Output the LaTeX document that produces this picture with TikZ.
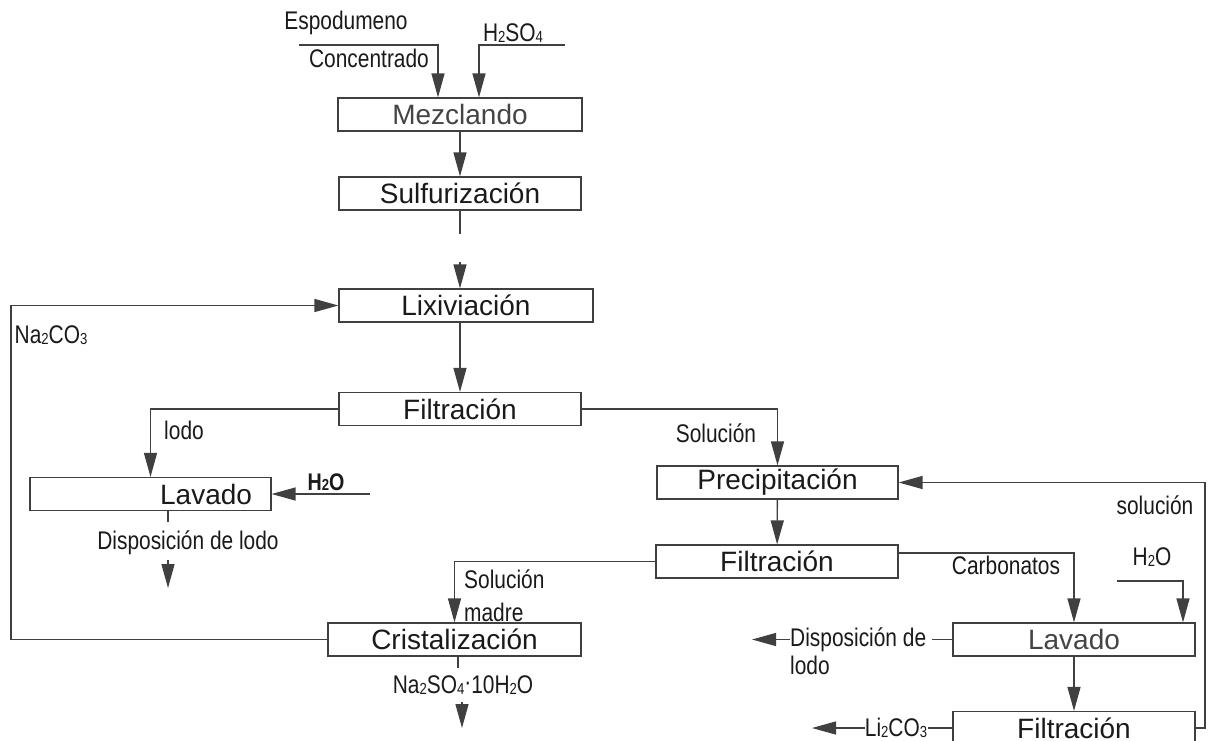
\documentclass[tikz,border=0pt]{standalone}
\usepackage{fontspec}
\setmainfont{Liberation Sans}
\newfontfamily\narrowfont[FakeStretch=0.82]{Liberation Sans}
\usetikzlibrary{arrows.meta}
\definecolor{ln}{HTML}{404040}
\definecolor{tx}{HTML}{1A1A1A}
\definecolor{tg}{HTML}{444444}
\newcommand\dsub[1]{\raisebox{-0.05ex}{\fontsize{16}{16}\selectfont #1}}
\begin{document}
\begin{tikzpicture}[x=1pt,y=-1pt,
  box/.style={draw=ln, line width=1.2pt, minimum height=33pt, inner sep=0pt,
              font=\fontsize{28}{30}\selectfont, text=tx},
  lbl/.style={font=\narrowfont\fontsize{25.5}{28}\selectfont, text=tx, inner sep=1pt},
  cn/.style={draw=ln, line width=1.3pt},
  arr/.style={cn, -{Triangle[length=24pt,width=13pt]}, color=ln}]
\useasboundingbox (0,0) rectangle (1208,740);
\fill[white] (0,0) rectangle (1208,740);

% boxes
\node[box, minimum width=244pt, text=tg] (mez) at (460,114.5) {Mezclando};
\node[box, minimum width=242pt] (sul) at (460,193.5) {Sulfurización};
\node[box, minimum width=254pt] (lix) at (466,305.5) {Lixiviación};
\node[box, minimum width=242pt] (fil1) at (460,409) {Filtración};
\node[box, minimum width=241pt, text width=203pt, align=right, inner xsep=19pt] (lav1) at (150.5,494) {Lavado};
\node[box, minimum width=241pt] (pre) at (777.5,482.5) {Precipitación};
\node[box, minimum width=242pt] (fil2) at (777,561.5) {Filtración};
\node[box, minimum width=253pt] (cri) at (454.5,639.5) {Cristalización};
\node[box, minimum width=242pt, text=tg] (lav2) at (1074,639.5) {Lavado};
\node[box, minimum width=242pt] (fil3) at (1074,728) {Filtración};

% labels
\node[lbl] (tEsp) at (346,23) {Espodumeno};
\node[lbl] (tCon) at (369,58) {Concentrado};
\node[lbl] (tH2SO4) at (513,33) {H\dsub{2}SO\dsub{4}};
\node[lbl] (tNa) at (51,335) {Na\dsub{2}CO\dsub{3}};
\node[lbl] (tLodo) at (184,430) {lodo};
\node[lbl, font=\narrowfont\bfseries\fontsize{24}{28}\selectfont] (tH2Oa) at (326,482) {H\dsub{2}O};
\node[lbl] (tDisp1) at (188,543) {Disposición de lodo};
\node[lbl] (tSol1) at (716,433) {Solución};
\node[lbl, align=left, anchor=west, font=\narrowfont\fontsize{25.5}{33}\selectfont] (tSolM) at (463,596) {Solución\\madre};
\node[lbl] (tNaS) at (463,685) {Na\dsub{2}SO\dsub{4}\raisebox{0.2ex}{·}10H\dsub{2}O};
\node[lbl] (tCarb) at (1006,565) {Carbonatos};
\node[lbl] (tH2Ob) at (1152,557) {H\dsub{2}O};
\node[lbl] (tSol2) at (1155,505) {solución};
\node[lbl, align=left, anchor=west, font=\narrowfont\fontsize{25.5}{28}\selectfont] (tDisp2) at (789,651) {Disposición de\\lodo};
\node[lbl] (tLi) at (896,728) {Li\dsub{2}CO\dsub{3}};

% free ends
\coordinate (inEsp) at (299,45);
\coordinate (inH2SO4) at (565,45);
\coordinate (gapA) at (460,234);
\coordinate (gapB) at (460,262);
\coordinate (loopL) at (11,639.5);
\coordinate (inH2Oa) at (370,494);
\coordinate (d1a) at (168,522);
\coordinate (d1b) at (168,560);
\coordinate (d1c) at (168,588);
\coordinate (inH2Ob) at (1117,581);
\coordinate (d2a) at (932,639.5);
\coordinate (d2b) at (790,639.5);
\coordinate (d2c) at (752,639.5);
\coordinate (liA) at (928,728);
\coordinate (liB) at (865,728);
\coordinate (liC) at (812,728);
\coordinate (loopR) at (1205,728);
\coordinate (cr1) at (458,668);
\coordinate (cr2) at (462,702);
\coordinate (cr3) at (462,728);

% connectors
\draw[arr] (inEsp) -| ([xshift=-22pt]mez.north);
\draw[arr] (inH2SO4) -| ([xshift=19pt]mez.north);
\draw[arr] (mez) -- (sul);
\draw[cn] (sul.south) -- (gapA);
\draw[arr] (gapB) -- ([xshift=-6pt]lix.north);
\draw[arr] ([xshift=-6pt]lix.south) -- (fil1.north);
\draw[arr] (fil1.west) -| (lav1.north);
\draw[arr] (fil1.east) -| (pre.north);
\draw[arr] (inH2Oa) -- (lav1.east);
\draw[cn] ([xshift=17.5pt]lav1.south) -- (d1a);
\draw[arr] (d1b) -- (d1c);
\draw[arr] (cri.west) -- (loopL) |- (lix.west);
\draw[arr] (pre) -- (fil2);
\draw[arr] (fil2.west) -| (cri.north);
\draw[cn] ([xshift=3.5pt]cri.south) -- (cr1);
\draw[arr] (cr2) -- (cr3);
\draw[arr] ([yshift=8.5pt]fil2.east) -| (lav2.north);
\draw[arr] (inH2Ob) -| ([xshift=109pt]lav2.north);
\draw[cn] (lav2.west) -- (d2a);
\draw[arr] (d2b) -- (d2c);
\draw[arr] (lav2) -- (fil3);
\draw[cn] (fil3.west) -- (liA);
\draw[arr] (liB) -- (liC);
\draw[arr] (fil3.east) -- (loopR) |- (pre.east);
\end{tikzpicture}
\end{document}
